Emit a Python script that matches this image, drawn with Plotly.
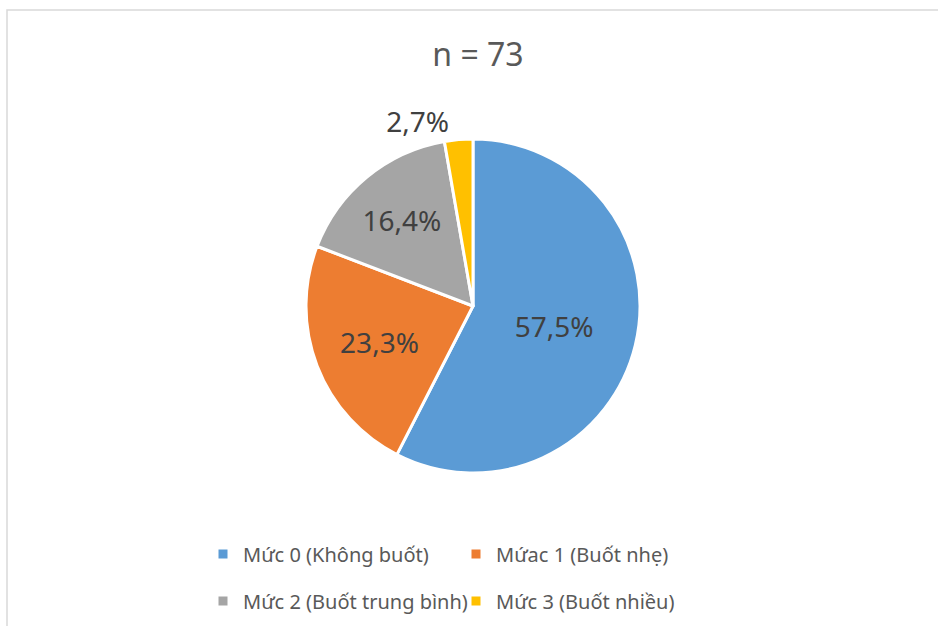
import plotly.graph_objects as go

categories = ["Mức 0 (Không buốt)", "Mứac 1 (Buốt nhẹ)", "Mức 2 (Buốt trung bình)", "Mức 3 (Buốt nhiều)"]
counts = [42, 17, 12, 2]
colors = ["#5B9BD5", "#ED7D31", "#A5A5A5", "#FFC000"]
text_positions = ["inside", "inside", "inside", "outside"]
legend_rows = ["legend", "legend", "legend2", "legend2"]
title_text = "n = 73"

W, H = 938, 626
cx, cy, r = 473, 306, 167

fig = go.Figure()
fig.add_trace(go.Pie(
    labels=categories,
    values=counts,
    sort=False,
    direction="clockwise",
    rotation=0,
    marker=dict(colors=colors, line=dict(color="white", width=3)),
    texttemplate="%{percent:.1%}",
    textposition=text_positions,
    insidetextorientation="horizontal",
    textfont=dict(size=28, color="#404040", family="Noto Sans"),
    showlegend=False,
    hoverinfo="label+percent",
    domain=dict(x=[(cx - r) / W, (cx + r) / W], y=[1 - (cy + r) / H, 1 - (cy - r) / H]),
))

for name, col, lg in zip(categories, colors, legend_rows):
    fig.add_trace(go.Scatter(
        x=[None], y=[None], mode="markers", name=name,
        marker=dict(symbol="square", size=9, color=col),
        legend=lg, showlegend=True, hoverinfo="skip",
    ))

legend_common = dict(
    orientation="h",
    font=dict(size=20, color="#595959", family="Noto Sans"),
    bgcolor="rgba(0,0,0,0)",
    xref="container", yref="container",
    xanchor="left", yanchor="middle",
    entrywidth=208, entrywidthmode="pixels",
    itemwidth=30,
)

fig.update_layout(
    width=W, height=H,
    margin=dict(l=0, r=0, t=0, b=0, autoexpand=False),
    paper_bgcolor="white",
    plot_bgcolor="white",
    separators=",.",
    title=dict(text=title_text, x=478 / W, xanchor="center", xref="container",
               y=1 - 55 / H, yref="container", yanchor="middle",
               font=dict(size=32, color="#595959", family="Noto Sans")),
    xaxis=dict(visible=False),
    yaxis=dict(visible=False),
    legend=dict(x=203 / W, y=1 - 554 / H, **legend_common),
    legend2=dict(x=203 / W, y=1 - 601 / H, **legend_common),
    shapes=[dict(type="rect", xref="paper", yref="paper",
                 x0=7 / W, x1=1.01, y0=-0.05, y1=1 - 10 / H,
                 line=dict(color="#D9D9D9", width=1.5), fillcolor="rgba(0,0,0,0)", layer="below")],
)

fig.write_html("out.html", config={"displayModeBar": False},
               post_script="document.body.style.margin='0';")
